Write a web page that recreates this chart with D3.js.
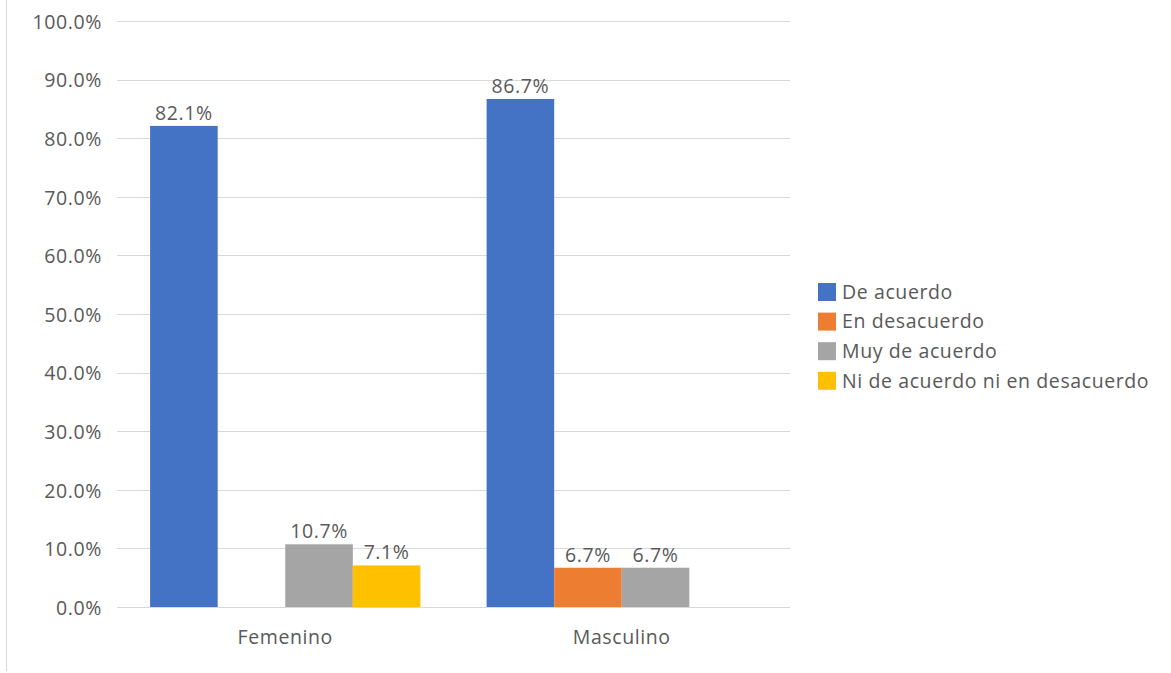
<!DOCTYPE html>
<html>
<head>
<meta charset="utf-8">
<script src="https://cdn.jsdelivr.net/npm/d3@7"></script>
<style>
  html, body { margin: 0; padding: 0; background: #fff; }
  svg { display: block; font-family: "Open Sans", "Noto Sans", sans-serif; }
  svg text { letter-spacing: 0.6px; }
</style>
</head>
<body>
<svg id="chart" width="1171" height="673"></svg>
<script>
// Survey answers by gender (share of respondents)
const categories = ["Femenino", "Masculino"];
const seriesNames = ["De acuerdo", "En desacuerdo", "Muy de acuerdo", "Ni de acuerdo ni en desacuerdo"];
const seriesColors = ["#4472C4", "#ED7D31", "#A5A5A5", "#FFC000"];
// one array per answer, values in category order; null = no answer in that group
const deAcuerdo = [0.821, 0.867];
const enDesacuerdo = [null, 0.067];
const muyDeAcuerdo = [0.107, 0.067];
const niNi = [0.071, null];
const yTicks = [0, 0.1, 0.2, 0.3, 0.4, 0.5, 0.6, 0.7, 0.8, 0.9, 1.0];

const seriesValues = [deAcuerdo, enDesacuerdo, muyDeAcuerdo, niNi];

const svg = d3.select("#chart");
const textColor = "#595959";
const fontSize = 19.5;
const pct = d3.format(".1%");

// thin frame line on the left edge
svg.append("line")
  .attr("x1", 6.5).attr("x2", 6.5).attr("y1", 0).attr("y2", 671)
  .attr("stroke", "#d9d9d9").attr("stroke-width", 1);

const plot = { left: 117, right: 790, top: 21, bottom: 607 };

const x0 = d3.scaleBand()
  .domain(categories)
  .range([plot.left, plot.right])
  .paddingInner(0)
  .paddingOuter(0);

const x1 = d3.scaleBand()
  .domain(seriesNames)
  .range([0, x0.bandwidth()])
  .paddingInner(0)
  .paddingOuter(0.49);

const y = d3.scaleLinear().domain([0, 1]).range([plot.bottom, plot.top]);

// gridlines
svg.append("g")
  .selectAll("line")
  .data(yTicks)
  .join("line")
  .attr("x1", plot.left).attr("x2", plot.right)
  .attr("y1", d => Math.round(y(d)) + 0.5)
  .attr("y2", d => Math.round(y(d)) + 0.5)
  .attr("stroke", "#d9d9d9").attr("stroke-width", 1);

// y tick labels
svg.append("g")
  .selectAll("text")
  .data(yTicks)
  .join("text")
  .attr("x", 102)
  .attr("y", d => y(d) + 1)
  .attr("dy", "0.35em")
  .attr("text-anchor", "end")
  .attr("fill", textColor)
  .attr("font-size", fontSize)
  .text(d => pct(d));

// bars
const rows = [];
categories.forEach((c, ci) => {
  seriesNames.forEach((s, si) => {
    const v = seriesValues[si][ci];
    if (v !== null) rows.push({ cat: c, series: s, color: seriesColors[si], value: v });
  });
});

svg.append("g")
  .selectAll("rect")
  .data(rows)
  .join("rect")
  .attr("x", d => x0(d.cat) + x1(d.series))
  .attr("y", d => y(d.value))
  .attr("width", x1.bandwidth())
  .attr("height", d => y(0) - y(d.value))
  .attr("fill", d => d.color);

// value labels
svg.append("g")
  .selectAll("text")
  .data(rows)
  .join("text")
  .attr("x", d => x0(d.cat) + x1(d.series) + x1.bandwidth() / 2)
  .attr("y", d => y(d.value) - 6)
  .attr("text-anchor", "middle")
  .attr("fill", textColor)
  .attr("font-size", fontSize)
  .text(d => pct(d.value));

// category labels
svg.append("g")
  .selectAll("text")
  .data(categories)
  .join("text")
  .attr("x", d => x0(d) + x0.bandwidth() / 2)
  .attr("y", 644)
  .attr("text-anchor", "middle")
  .attr("fill", textColor)
  .attr("font-size", fontSize)
  .text(d => d);

// legend
const legend = svg.append("g")
  .selectAll("g")
  .data(seriesNames)
  .join("g")
  .attr("transform", (d, i) => `translate(818, ${283 + i * 29.6})`);

legend.append("rect")
  .attr("width", 18).attr("height", 18)
  .attr("fill", (d, i) => seriesColors[i]);

legend.append("text")
  .attr("x", 24)
  .attr("y", 9)
  .attr("dy", "0.35em")
  .attr("fill", textColor)
  .attr("font-size", fontSize)
  .text(d => d);
</script>
</body>
</html>
